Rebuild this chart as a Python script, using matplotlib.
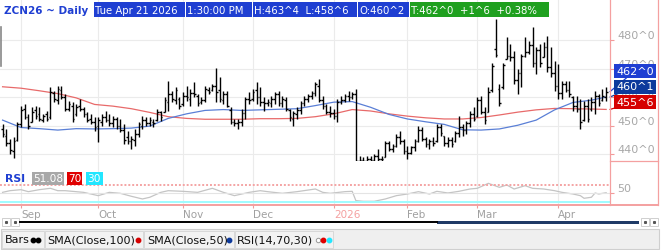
import numpy as np
import matplotlib.pyplot as plt
from matplotlib.patches import Rectangle

# ZCN26 daily bars, Aug 25 2025 .. Apr 21 2026 (index = trading day)
highs = [450.6, 448.9, 445.4, 446.0, 451.2, 457.1, 457.7, 454.1, 456.5, 457.1,
         456.5, 454.1, 455.3, 463.5, 462.3, 464.1, 464.1, 461.2, 458.8, 458.2,
         457.7, 459.4, 456.5, 454.7, 454.1, 453.0, 453.0, 454.1, 455.3, 454.1,
         453.5, 453.0, 452.4, 450.6, 448.3, 446.5, 448.9, 451.2, 453.6, 453.0,
         453.0, 452.4, 455.9, 455.3, 460.0, 465.8, 462.3, 463.5, 460.0, 461.7,
         464.1, 462.9, 465.3, 461.2, 460.0, 464.1, 463.5, 464.7, 470.2, 467.0,
         462.3, 462.3, 456.5, 452.4, 452.4, 455.9, 460.0, 461.7, 462.9, 465.3,
         463.5, 460.0, 459.4, 460.6, 461.7, 462.3, 460.6, 460.0, 455.9, 455.3,
         456.5, 458.8, 460.6, 461.2, 462.3, 465.3, 466.4, 460.6, 457.7, 457.1,
         455.9, 459.4, 460.6, 461.2, 462.3, 461.7, 462.9, 439.5, 438.9, 439.5,
         439.5, 440.1, 441.8, 439.5, 444.8, 444.8, 443.6, 447.1, 448.3, 445.4,
         443.0, 443.0, 445.4, 450.0, 449.5, 445.9, 445.4, 445.9, 450.6, 450.6,
         446.5, 445.9, 445.9, 448.3, 453.6, 450.6, 451.8, 455.3, 456.5, 460.0,
         460.6, 456.5, 463.5, 472.0, 487.5, 464.7, 472.0, 481.0, 478.7, 476.4,
         469.9, 475.2, 481.0, 479.9, 484.6, 477.5, 478.7, 479.3, 481.6, 477.5,
         472.9, 471.7, 465.8, 465.8, 465.8, 460.6, 460.6, 459.4, 458.8, 459.4,
         460.0, 462.3, 461.2, 462.9, 463.5]
lows = [446.0, 443.0, 440.1, 438.8, 444.8, 449.5, 452.4, 448.9, 451.2, 452.4,
        451.8, 451.2, 451.8, 452.4, 458.2, 457.7, 459.4, 455.3, 455.3, 451.2,
        453.6, 455.3, 453.0, 451.2, 450.6, 448.3, 444.2, 450.0, 451.2, 450.0,
        449.5, 448.9, 447.7, 443.6, 443.6, 441.9, 443.0, 446.0, 448.9, 450.0,
        450.0, 449.5, 451.8, 451.8, 454.7, 455.3, 458.2, 457.7, 455.9, 457.1,
        458.8, 457.1, 460.0, 457.1, 457.7, 458.2, 461.2, 462.3, 458.2, 458.2,
        457.7, 456.5, 450.6, 450.0, 448.9, 450.0, 452.4, 457.7, 458.8, 457.7,
        457.1, 455.3, 457.1, 456.5, 457.7, 457.1, 456.5, 455.3, 451.8, 450.0,
        452.4, 454.1, 457.1, 458.2, 459.4, 460.6, 458.2, 455.9, 454.1, 453.0,
        452.4, 451.2, 457.7, 458.2, 458.8, 459.4, 436.6, 436.6, 436.6, 437.2,
        437.2, 437.8, 437.8, 437.2, 438.9, 441.3, 440.7, 442.4, 443.6, 440.1,
        438.4, 440.1, 441.3, 444.2, 444.8, 442.4, 441.8, 443.0, 444.2, 446.5,
        443.0, 442.4, 442.4, 444.2, 445.9, 446.5, 447.1, 449.5, 451.8, 453.0,
        454.1, 450.6, 455.0, 461.7, 474.0, 457.1, 463.0, 473.4, 472.9, 464.7,
        461.2, 463.5, 474.0, 475.2, 470.5, 468.2, 470.5, 474.0, 468.8, 467.0,
        462.3, 459.4, 459.4, 461.7, 460.0, 455.3, 454.7, 448.9, 451.8, 451.2,
        455.3, 454.1, 457.0, 458.8, 458.75]
opens = [449.0, 446.5, 444.0, 441.0, 445.0, 450.5, 456.0, 453.0, 451.5, 455.5,
         454.0, 452.0, 454.0, 453.0, 461.5, 459.0, 462.5, 460.0, 456.0, 457.0,
         454.0, 457.0, 456.0, 454.0, 452.5, 451.5, 450.0, 451.5, 453.0, 452.0,
         451.0, 452.5, 450.0, 448.5, 446.0, 444.5, 445.0, 447.0, 450.0, 452.0,
         451.0, 451.5, 452.0, 455.0, 455.0, 458.5, 461.0, 459.0, 459.5, 457.5,
         460.5, 459.5, 461.5, 460.5, 458.5, 459.0, 462.5, 462.5, 464.0, 462.5,
         459.0, 461.0, 455.5, 451.5, 451.0, 451.5, 454.5, 459.5, 459.5, 462.5,
         460.0, 458.5, 458.0, 458.0, 459.5, 461.0, 458.0, 459.0, 455.5, 452.5,
         454.0, 455.5, 458.0, 459.5, 460.5, 461.5, 464.0, 459.0, 457.0, 455.0,
         454.5, 453.5, 458.5, 459.0, 460.5, 460.0, 461.0, 437.5, 438.0, 437.5,
         438.5, 438.0, 439.5, 438.5, 439.0, 444.0, 442.0, 443.0, 446.0, 444.5,
         441.0, 440.5, 442.5, 444.5, 448.5, 445.5, 443.5, 444.5, 444.5, 449.5,
         446.5, 444.0, 445.0, 444.5, 447.5, 449.5, 448.5, 451.0, 454.0, 453.5,
         459.0, 455.0, 455.0, 462.5, 477.0, 463.0, 463.5, 473.5, 474.5, 474.0,
         466.0, 468.5, 474.5, 476.0, 478.5, 472.0, 476.5, 474.0, 477.5, 470.5,
         468.5, 464.0, 461.5, 464.5, 462.5, 460.0, 457.0, 456.0, 452.0, 457.0,
         456.0, 458.5, 460.5, 459.0, 460.25]
closes = [447.0, 444.0, 441.5, 444.5, 450.5, 455.5, 453.0, 450.0, 455.0, 453.5,
          452.5, 453.5, 452.5, 462.0, 459.5, 463.0, 460.0, 456.0, 457.5, 452.5,
          456.5, 456.0, 454.0, 452.0, 451.5, 449.5, 452.0, 453.0, 452.0, 451.0,
          452.5, 450.0, 448.5, 445.0, 444.5, 445.5, 447.0, 450.5, 452.0, 451.0,
          452.0, 451.0, 455.0, 453.0, 459.0, 461.0, 459.5, 462.5, 457.0, 460.5,
          460.0, 461.5, 461.0, 458.0, 459.0, 463.0, 462.0, 464.0, 462.0, 459.5,
          461.0, 457.0, 451.5, 451.0, 451.5, 454.5, 459.5, 459.0, 462.0, 460.0,
          458.5, 458.0, 458.5, 459.5, 461.0, 458.0, 459.5, 456.0, 453.0, 454.5,
          455.5, 458.0, 459.5, 460.5, 461.5, 464.5, 459.0, 457.0, 455.0, 454.5,
          453.5, 458.5, 459.0, 460.5, 460.0, 461.0, 437.5, 438.0, 437.5, 438.5,
          438.0, 439.5, 438.5, 438.5, 444.0, 442.0, 443.0, 446.0, 444.5, 441.0,
          440.5, 442.5, 444.5, 448.5, 445.5, 443.5, 444.5, 444.0, 449.5, 447.5,
          444.0, 445.0, 443.5, 447.5, 449.5, 448.5, 451.0, 454.0, 452.5, 459.0,
          455.0, 452.0, 462.0, 471.0, 475.0, 458.0, 471.5, 474.5, 474.0, 466.0,
          468.5, 474.5, 476.0, 478.5, 472.0, 476.5, 472.0, 477.5, 470.5, 468.5,
          464.0, 461.5, 464.5, 462.5, 461.0, 457.0, 456.0, 451.5, 457.0, 452.5,
          458.5, 460.5, 458.0, 460.5, 462.0]

# moving averages every 5 bars
sma_idx = [0, 5, 10, 15, 20, 25, 30, 35, 40, 45, 50, 55, 60, 65, 70, 75, 80,
           85, 90, 95, 100, 105, 110, 115, 120, 125, 130, 135, 140, 145, 150,
           155, 160, 164]
sma100 = [463.7, 463.2, 462.3, 461.3, 459.8, 457.5, 456.9, 456.0, 454.7, 453.2,
          452.6, 452.3, 452.3, 452.3, 452.5, 452.5, 452.6, 453.2, 454.2, 455.7,
          455.2, 454.2, 453.4, 452.8, 452.4, 452.4, 452.9, 453.8, 454.8, 455.6,
          456.1, 456.0, 455.9, 455.75]
sma50 = [452.0, 449.4, 449.0, 448.5, 449.0, 448.9, 449.0, 449.2, 449.9, 452.6,
         454.2, 455.4, 455.7, 455.4, 455.6, 455.8, 456.0, 457.1, 458.3, 458.5,
         456.5, 454.0, 452.4, 451.4, 450.5, 448.6, 448.5, 448.9, 450.2, 452.0,
         455.6, 458.2, 459.0, 460.1]

rsi_idx = [0, 2, 5, 7, 10, 13, 15, 17, 22, 26, 29, 32, 35, 38, 40, 43, 45, 49,
           53, 57, 60, 63, 67, 70, 72, 76, 80, 85, 87, 89, 93, 95, 96, 98, 101,
           104, 107, 110, 113, 116, 118, 121, 124, 127, 129, 132, 135, 137, 139,
           142, 144, 147, 150, 152, 155, 157, 158, 160, 161, 162, 164]
rsi = [52.0, 55.9, 58.3, 53.6, 58.3, 61.5, 55.9, 55.9, 52.0, 44.2, 52.0, 49.7,
       42.7, 36.4, 40.4, 52.0, 55.9, 54.4, 52.0, 61.5, 52.0, 44.2, 52.0, 55.9,
       53.6, 49.7, 53.6, 59.9, 52.0, 49.7, 53.6, 54.4, 32.5, 30.9, 30.9, 36.4,
       44.2, 48.1, 53.6, 48.1, 54.4, 50.5, 54.4, 59.9, 61.5, 73.2, 63.8, 69.3,
       59.9, 67.7, 61.5, 59.9, 55.9, 52.0, 48.1, 44.2, 38.0, 40.4, 50.5, 48.1,
       51.08]

month_idx = [5, 26, 49, 68, 90, 110, 129, 151]
month_lbl = ['Sep', 'Oct', 'Nov', 'Dec', '2026', 'Feb', 'Mar', 'Apr']
price_ticks = [440, 450, 460, 470, 480]

BLUE = '#1f3fd2'
NAVY = '#0d3a9c'
RED = '#d60000'
GREEN = '#1fa01f'
PINK = '#f29a9a'
GRID = '#ebebeb'

W, H = 662, 251
fig = plt.figure(figsize=(W / 100, H / 100), dpi=100)


def box(l, t, r, b):
    return [l / W, 1 - b / H, (r - l) / W, (b - t) / H]


ax = fig.add_axes(box(0, 0, 610, 162))
rx = fig.add_axes(box(0, 162, 610, 206))
n = len(highs)
idx = np.arange(n)

# price panel
ax.vlines(idx, lows, highs, color='black', lw=1.0, zorder=3)
ax.hlines(opens, idx - 0.45, idx, color='black', lw=1.0, zorder=3)
ax.hlines(closes, idx, idx + 0.45, color='black', lw=1.0, zorder=3)
ax.plot(sma_idx, sma100, color='#e86a6a', lw=0.9, zorder=2)
ax.plot(sma_idx, sma50, color='#5a7fd6', lw=0.9, zorder=2)
ax.set_xlim(-0.7, 165.05)
ax.set_ylim(437.65, 494.5)
ax.set_xticks(month_idx)
ax.set_yticks(price_ticks)
ax.yaxis.tick_right()
ax.set_yticklabels([f'{v}^0' for v in price_ticks])
for t in ax.get_yticklabels():
    t.set_va('bottom')
ax.tick_params(axis='x', length=0, labelbottom=False)
ax.tick_params(axis='y', length=3, color=PINK, labelcolor='#a8a8a8',
               labelsize=8, pad=2)
ax.grid(color=GRID, lw=0.8)
ax.set_axisbelow(True)
for s in ax.spines.values():
    s.set_visible(False)

# last value tags
tags = [(closes[-1], '462^0', BLUE, 179), (sma50[-1], '460^1', NAVY, 163.5),
        (sma100[-1], '455^6', RED, 148)]
for val, txt, col, ypix in tags:
    ax.annotate(txt, xy=(1, val), xycoords=ax.get_yaxis_transform(),
                xytext=(616, ypix), textcoords='figure pixels',
                va='center', ha='left', color='white', fontsize=8,
                bbox=dict(boxstyle='square,pad=0.18', fc=col, ec='none'),
                arrowprops=dict(arrowstyle='-', color=col, lw=0.9,
                                shrinkA=0, shrinkB=0),
                annotation_clip=False, zorder=10)

# RSI panel
rx.plot(rsi_idx, rsi, color='#c4c4c4', lw=0.9)
rx.axhline(70, color='#f4a4a4', lw=1.4, ls=(0, (1, 1)))
rx.axhline(30, color='#9ffcff', lw=1.4)
rx.axhline(50, color='#e4e4e4', lw=0.8)
rx.set_xlim(-0.7, 165.05)
rx.set_ylim(22.2, 125.8)
rx.set_xticks(month_idx)
rx.set_xticklabels(month_lbl, ha='left')
rx.set_yticks([50])
rx.yaxis.tick_right()
rx.set_yticklabels(['50'], va='bottom')
rx.tick_params(axis='x', length=2, color=PINK, labelcolor='#a0a0a0',
               labelsize=7.5, pad=1)
rx.tick_params(axis='y', length=3, color=PINK, labelcolor='#a8a8a8',
               labelsize=8, pad=2)
rx.get_xticklabels()[4].set_color('#f4a0a0')
rx.grid(axis='x', color=GRID, lw=0.8)
rx.set_axisbelow(True)
for s in rx.spines.values():
    s.set_visible(False)

# overlay for frame, header and footer
ov = fig.add_axes([0, 0, 1, 1])
ov.set_xlim(0, W)
ov.set_ylim(H, 0)
ov.axis('off')

ov.plot([610, 610], [0, 206], color='#f4a0a0', lw=0.9)
ov.plot([658, 658], [0, 206], color='#f4a0a0', lw=0.9)
ov.plot([610, 658], [162, 162], color='#f4a0a0', lw=0.9)
ov.plot([0, 658], [206, 206], color='#f4a0a0', lw=1.4)
ov.plot([0.5, 0.5], [28, 67], color='#888888', lw=1.2)

ov.text(4, 10.5, 'ZCN26 ~ Daily', color=BLUE, fontsize=7.5, weight='bold',
        va='center', ha='left')
hdr = [(94, 185, 'Tue Apr 21 2026', BLUE), (186, 252, '1:30:00 PM', BLUE),
       (253, 357, 'H:463^4  L:458^6', BLUE), (358, 409, 'O:460^2', BLUE),
       (410, 549, 'T:462^0  +1^6  +0.38%', GREEN)]
for x0, x1, txt, col in hdr:
    ov.add_patch(Rectangle((x0, 3), x1 - x0, 14.5, fc=col, ec='none'))
    ov.text(x0 + 1, 10.5, txt, color='white', fontsize=7.3, va='center',
            ha='left')

ov.text(5, 179.5, 'RSI', color=BLUE, fontsize=7.8, weight='bold',
        va='center', ha='left')
rsi_tags = [(32, 64, '51.08', '#a8a8a8'), (67, 82, '70', '#e00000'),
            (86, 103, '30', '#22e6ff')]
for x0, x1, txt, col in rsi_tags:
    ov.add_patch(Rectangle((x0, 173), x1 - x0, 13, fc=col, ec='none'))
    ov.text(x0 + 1, 179.5, txt, color='white', fontsize=7.6, va='center',
            ha='left')

# scrollbar
ov.plot([20, 437], [223, 223], color='black', lw=1.4)
ov.add_patch(Rectangle((437, 221.5), 202, 3.5, fc='#1f3a66', ec='none'))
for x0 in [2, 11, 641, 650]:
    ov.add_patch(Rectangle((x0, 219), 8, 8, fc='white', ec='#c8c8c8', lw=0.6))
    ov.plot([x0 + 4], [223], marker='s', ms=1.2, color='#555555')

# footer legend bar
ov.add_patch(Rectangle((1, 230), 658, 20, fc='#efefef', ec='#cfcfcf', lw=0.8))
for x0, x1 in [(2, 44), (45, 143), (144, 234), (235, 333)]:
    ov.add_patch(Rectangle((x0, 231.5), x1 - x0, 17, fc='#f2f2f2',
                           ec='#d4d4d4', lw=0.6))
ov.text(5, 240.5, 'Bars', fontsize=8, va='center', ha='left', color='#111111')
ov.plot([33, 38], [240.5, 240.5], color='black', lw=1.0)
ov.plot([33, 38], [240.5, 240.5], ls='none', marker='o', ms=3.2, color='black')
ov.text(47, 240.5, 'SMA(Close,100)', fontsize=8, va='center', ha='left',
        color='#111111')
ov.plot([138], [240.5], marker='o', ms=3.2, color=RED)
ov.text(147, 240.5, 'SMA(Close,50)', fontsize=8, va='center', ha='left',
        color='#111111')
ov.plot([229], [240.5], marker='o', ms=3.2, color=NAVY)
ov.text(237, 240.5, 'RSI(14,70,30)', fontsize=8, va='center', ha='left',
        color='#111111')
ov.plot([318], [240.5], marker='o', ms=3.2, mfc='white', mec='#999999',
        mew=0.7)
ov.plot([323], [240.5], marker='o', ms=3.2, color='#e00000')
ov.plot([328.5], [240.5], marker='o', ms=3.2, color='#22e6ff')

fig.savefig('out.png', dpi=100)
